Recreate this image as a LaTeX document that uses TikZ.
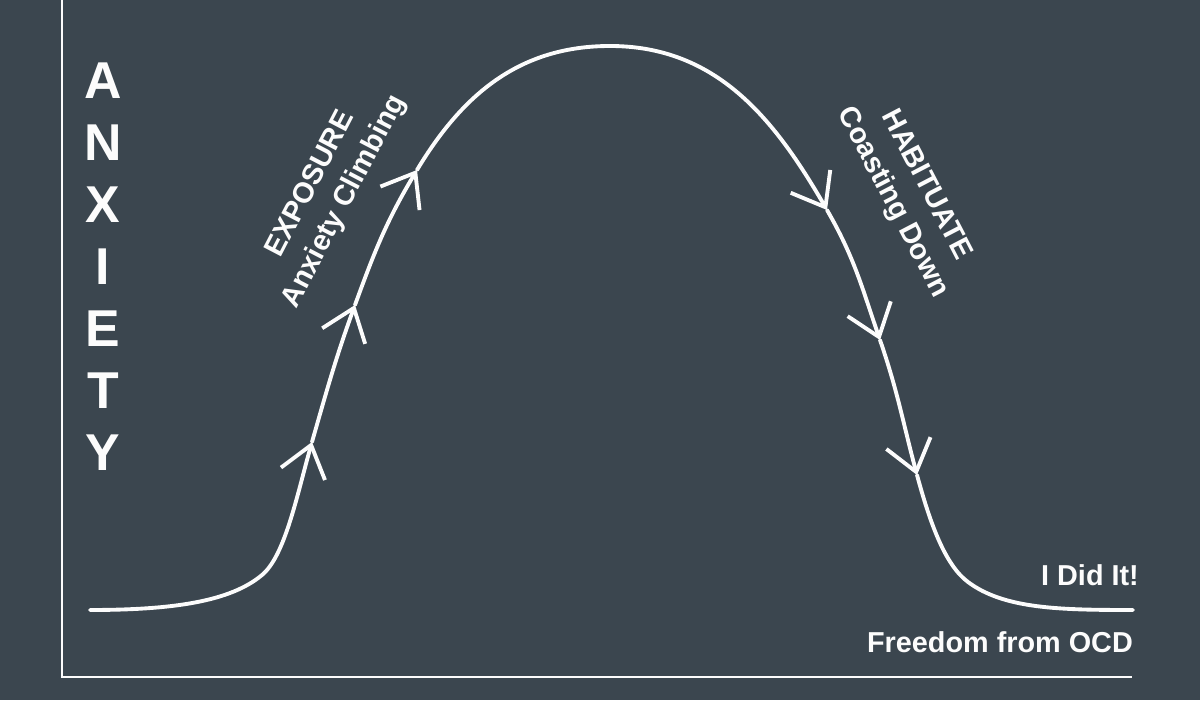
\documentclass[tikz,border=0pt]{standalone}
\usepackage{fontspec}
\setmainfont{Liberation Sans}
\usetikzlibrary{arrows.meta}
\tikzset{>={Straight Barb[length=17pt,width=26pt]}}
\definecolor{clbg}{RGB}{59,70,79}
\definecolor{clw}{gray}{.99}
\tikzset{
  curve/.style={clw, line width=2.2pt, line cap=round},
  axis/.style={clw, line width=1.4pt},
  lbl/.style={text=clw, font=\bfseries\fontsize{16.4}{21.5}\selectfont, align=center, inner sep=0pt},
  big/.style={text=clw, font=\bfseries\fontsize{29.5}{30}\selectfont, inner sep=0pt}
}

\begin{document}
\begin{tikzpicture}[x=0.02cm, y=0.02cm]
    \fill[clbg](0, 0) rectangle (1200, 700);
    \useasboundingbox (0, 0) rectangle (1200, 700);
    % axes
    \coordinate (top) at (62, 700);
    \coordinate (o) at (62, 23);
    \coordinate (xend) at (1132, 23);
    \draw[axis](top)--(o)--(xend);
    \foreach \l [count=\i] in {A, N, X, I, E, T, Y}
        \node[big] (l\i) at (103, 681-62*\i) {\l};
    % the curve
    \coordinate (s) at (90, 90);
    \coordinate (k) at (262, 125);
    \coordinate (a1) at (312, 258);
    \coordinate (a2) at (355, 395);
    \coordinate (a3) at (417, 530);
    \coordinate (pk) at (610, 654);
    \coordinate (d1) at (827, 490);
    \coordinate (d2) at (880, 360);
    \coordinate (d3) at (917, 225);
    \coordinate (k2) at (968, 118);
    \coordinate (e) at (1133, 90);
    \draw[curve, ->](s) .. controls (175, 90) and (231, 99) .. (k)
        .. controls (285, 144) and (297, 205) .. (a1);
    \draw[curve, ->](a1) to[out=74, in=250] (a2);
    \draw[curve, ->](a2) to[out=70, in=239] (a3);
    \draw[curve](a3) to[out=59, in=180] (pk);
    \draw[curve, ->](pk) to[out=0, in=120] (d1);
    \draw[curve, ->](d1) to[out=-60, in=109] (d2);
    \draw[curve, ->](d2) to[out=-71, in=105] (d3);
    \draw[curve](d3) .. controls (930, 177) and (945, 135) .. (k2)
        .. controls (1004, 91) and (1060, 90) .. (e);
    % labels
    \node[lbl, rotate=62.5] (expo) at (328, 507) {EXPOSURE\\Anxiety Climbing};
    \node[lbl, rotate=-62.5] (habit) at (909, 506) {HABITUATE\\Coasting Down};
    \node[lbl] (did) at (1090, 125) {I Did It!};
    \node[lbl] (free) at (1000, 58) {Freedom from OCD};
\end{tikzpicture}
\end{document}
